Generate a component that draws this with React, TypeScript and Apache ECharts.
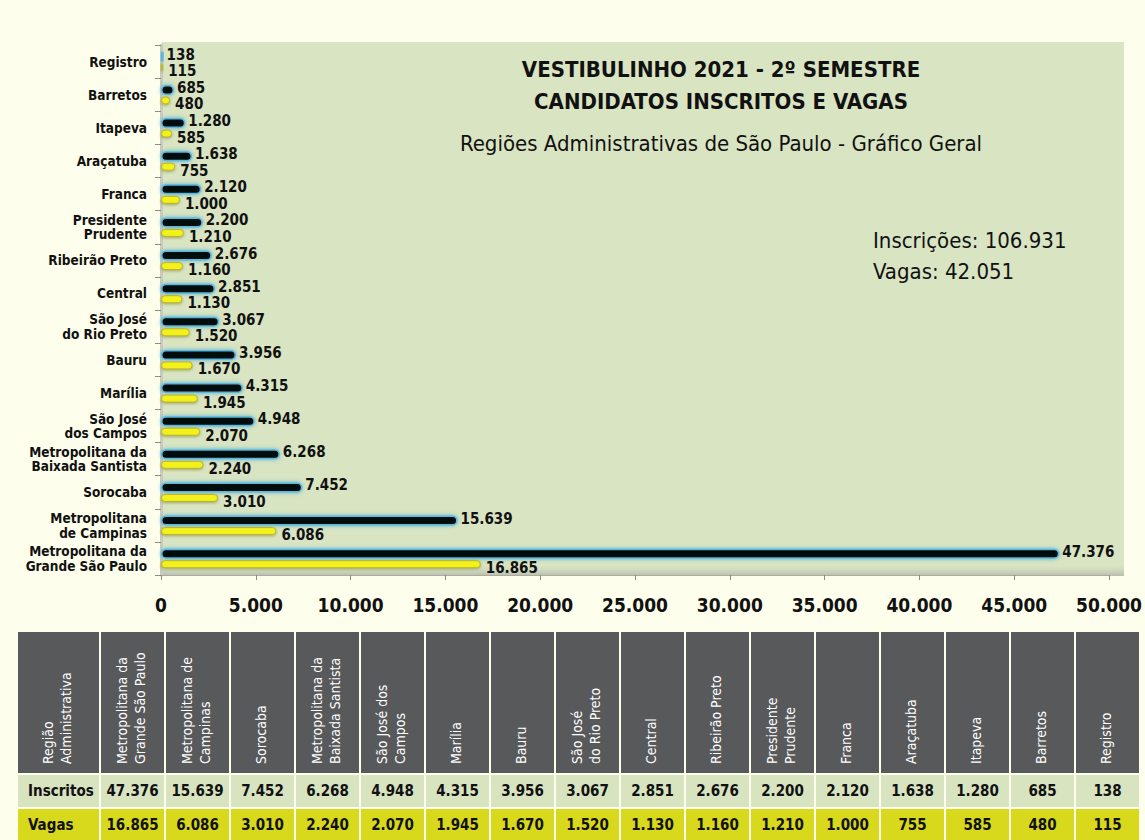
import React, { useEffect, useRef } from "react";
import * as echarts from "echarts";

const categories = [
  "Metropolitana da\nGrande São Paulo",
  "Metropolitana\nde Campinas",
  "Sorocaba",
  "Metropolitana da\nBaixada Santista",
  "São José\ndos Campos",
  "Marília",
  "Bauru",
  "São José\ndo Rio Preto",
  "Central",
  "Ribeirão Preto",
  "Presidente\nPrudente",
  "Franca",
  "Araçatuba",
  "Itapeva",
  "Barretos",
  "Registro",
];
const tableHeaders = [
  "Metropolitana da\nGrande São Paulo",
  "Metropolitana de\nCampinas",
  "Sorocaba",
  "Metropolitana da\nBaixada Santista",
  "São José dos\nCampos",
  "Marília",
  "Bauru",
  "São José\ndo Rio Preto",
  "Central",
  "Ribeirão Preto",
  "Presidente\nPrudente",
  "Franca",
  "Araçatuba",
  "Itapeva",
  "Barretos",
  "Registro",
];
const inscritos = [47376, 15639, 7452, 6268, 4948, 4315, 3956, 3067, 2851, 2676, 2200, 2120, 1638, 1280, 685, 138];
const vagas = [16865, 6086, 3010, 2240, 2070, 1945, 1670, 1520, 1130, 1160, 1210, 1000, 755, 585, 480, 115];
const titleLines = ["VESTIBULINHO 2021 - 2º SEMESTRE", "CANDIDATOS INSCRITOS E VAGAS"];
const subtitle = "Regiões Administrativas de São Paulo - Gráfico Geral";
const totalInscricoes = "Inscrições: 106.931";
const totalVagas = "Vagas: 42.051";
const xMin = 0;
const xMax = 50000;
const xInterval = 5000;

const FONT = "'DejaVu Sans Condensed', 'Liberation Sans Narrow', 'Roboto Condensed', 'Open Sans Condensed', 'Noto Sans', sans-serif";

const fmt = (n: number) => String(n).replace(/\B(?=(\d{3})+(?!\d))/g, ".");

function buildTable() {
  const els: any[] = [];
  const x0 = 17;
  const firstW = 83;
  const colW = 65;
  const headY = 632;
  const headH = 141;
  const r1Y = 775;
  const rH = 32;
  const r2Y = 809;
  const headerColor = "#58595b";
  const r1Color = "#d8e3c0";
  const r2Color = "#d8d81c";
  const cols = ["Região\nAdministrativa", ...tableHeaders];
  cols.forEach((h, i) => {
    const cx = i === 0 ? x0 : 100 + (i - 1) * colW;
    const w = i === 0 ? firstW : colW;
    els.push({ type: "rect", shape: { x: cx + 1, y: headY, width: w - 2, height: headH }, style: { fill: headerColor } });
    els.push({ type: "rect", shape: { x: cx + 1, y: r1Y, width: w - 2, height: rH }, style: { fill: r1Color } });
    els.push({ type: "rect", shape: { x: cx + 1, y: r2Y, width: w - 2, height: 40 }, style: { fill: r2Color } });
    els.push({
      type: "text",
      x: cx + w / 2 - 2,
      y: 764,
      rotation: Math.PI / 2,
      style: {
        text: h,
        fill: "#ffffff",
        font: `14px ${FONT}`,
        align: "left",
        verticalAlign: "middle",
        lineHeight: 18,
      },
    });
    if (i === 0) {
      els.push({ type: "text", x: 28, y: r1Y + rH / 2, style: { text: "Inscritos", fill: "#111", font: `bold 15px ${FONT}`, align: "left", verticalAlign: "middle" } });
      els.push({ type: "text", x: 28, y: r2Y + 16, style: { text: "Vagas", fill: "#111", font: `bold 15px ${FONT}`, align: "left", verticalAlign: "middle" } });
    } else {
      els.push({ type: "text", x: cx + w / 2, y: r1Y + rH / 2, style: { text: fmt(inscritos[i - 1]), fill: "#111", font: `bold 15px ${FONT}`, align: "center", verticalAlign: "middle" } });
      els.push({ type: "text", x: cx + w / 2, y: r2Y + 16, style: { text: fmt(vagas[i - 1]), fill: "#111", font: `bold 15px ${FONT}`, align: "center", verticalAlign: "middle" } });
    }
  });
  return els;
}

export default function App() {
  const ref = useRef<HTMLDivElement>(null);
  useEffect(() => {
    document.body.style.margin = "0";
    const chart = echarts.init(ref.current!, undefined, { renderer: "svg" });
    chart.setOption({
      animation: false,
      backgroundColor: "#fefeec",
      textStyle: { fontFamily: FONT },
      title: [
        {
          text: titleLines.join("\n"),
          left: 716,
          top: 48,
          textAlign: "center",
          textStyle: { fontFamily: FONT, fontSize: 22, fontWeight: "bold", color: "#111", lineHeight: 32 },
        },
        {
          text: subtitle,
          left: 716,
          top: 127,
          textAlign: "center",
          textStyle: { fontFamily: FONT, fontSize: 22, fontWeight: "normal", color: "#111" },
        },
      ],
      grid: { left: 161, right: 27, top: 45, bottom: 265, containLabel: false },
      xAxis: {
        type: "value",
        min: xMin,
        max: xMax,
        interval: xInterval,
        axisLine: { show: true, lineStyle: { color: "#a9ad9e", width: 1 } },
        axisTick: { show: true, length: 5, lineStyle: { color: "#8a8d82" } },
        splitLine: { show: false },
        axisLabel: {
          margin: 20,
          fontFamily: FONT,
          fontSize: 19,
          fontWeight: "bold",
          color: "#111",
          formatter: (v: number) => fmt(v),
        },
      },
      yAxis: {
        type: "category",
        data: categories,
        axisLine: { show: true, lineStyle: { color: "#c8cbbd", width: 3 } },
        axisTick: { show: true, length: 6, lineStyle: { color: "#8a8d82" } },
        axisLabel: {
          margin: 14,
          fontFamily: FONT,
          fontSize: 13.5,
          fontWeight: "bold",
          color: "#111",
          lineHeight: 14.5,
        },
      },
      graphic: [
        {
          type: "rect",
          z: -1,
          shape: { x: 162, y: 42, width: 962, height: 533 },
          style: { fill: "#d9e4c2" },
        },
        {
          type: "rect",
          z: -1,
          shape: { x: 162, y: 566, width: 962, height: 10 },
          style: {
            fill: new echarts.graphic.LinearGradient(0, 0, 0, 1, [
              { offset: 0, color: "rgba(200,205,185,0)" },
              { offset: 1, color: "#b8bcae" },
            ]),
          },
        },
        {
          type: "text",
          left: 873,
          top: 229,
          style: { text: totalInscricoes, fill: "#111", font: `22px ${FONT}` },
        },
        {
          type: "text",
          left: 873,
          top: 260,
          style: { text: totalVagas, fill: "#111", font: `22px ${FONT}` },
        },
        { type: "group", children: buildTable() },
      ],
      series: [
        {
          name: "Inscritos",
          type: "bar",
          data: inscritos,
          barWidth: 10,
          barGap: "15%",
          itemStyle: {
            color: "#05070d",
            borderColor: "#5bb8dc",
            borderWidth: 1.5,
            borderRadius: 5,
            shadowColor: "rgba(60,170,220,0.9)",
            shadowBlur: 4,
          },
          label: {
            show: true,
            position: "right",
            distance: 3,
            offset: [0, -2],
            fontFamily: FONT,
            fontSize: 15,
            fontWeight: "bold",
            color: "#111",
            formatter: (p: any) => fmt(p.value),
          },
        },
        {
          name: "Vagas",
          type: "bar",
          data: vagas,
          barWidth: 8,
          itemStyle: {
            color: "#f3f11c",
            borderColor: "#b9b42c",
            borderWidth: 1,
            borderRadius: 4,
            shadowColor: "rgba(120,120,40,0.6)",
            shadowBlur: 3,
            shadowOffsetY: 1,
          },
          label: {
            show: true,
            position: "right",
            distance: 4,
            offset: [1, 4],
            fontFamily: FONT,
            fontSize: 15,
            fontWeight: "bold",
            color: "#111",
            formatter: (p: any) => fmt(p.value),
          },
        },
      ],
    });
    return () => chart.dispose();
  }, []);
  return <div ref={ref} style={{ position: "absolute", left: 0, top: 0, width: 1145, height: 840 }} />;
}
